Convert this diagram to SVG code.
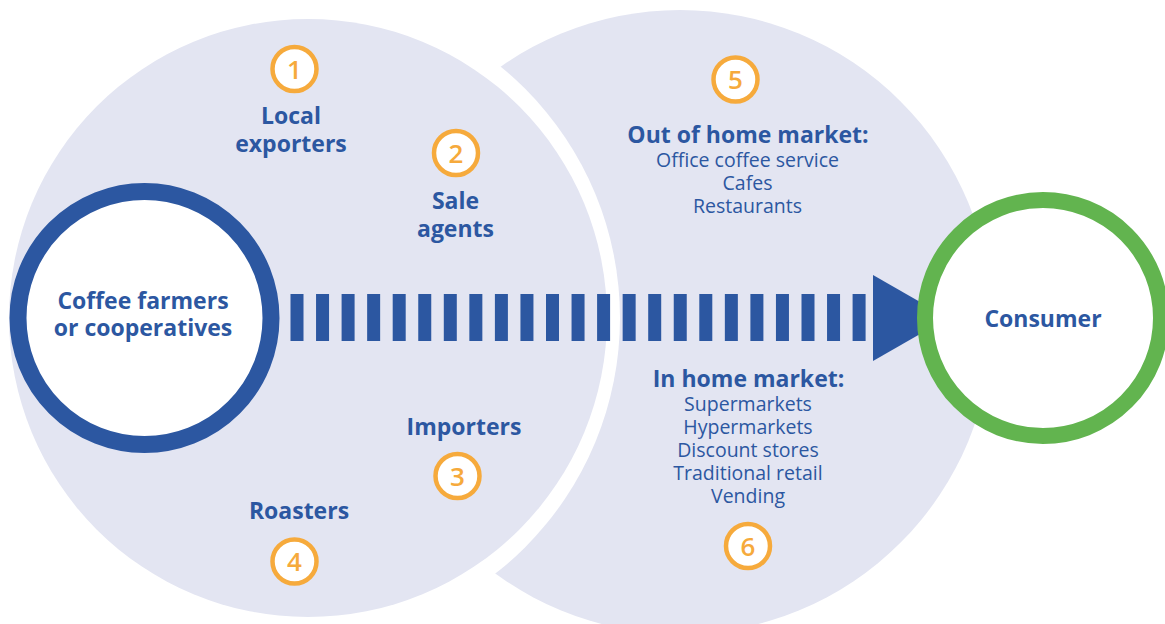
<svg xmlns="http://www.w3.org/2000/svg" width="1165" height="624" viewBox="0 0 1165 624">
  <style>
    .zone { fill: #e3e5f2; }
    .cut { fill: #ffffff; }
    .ring-blue { fill: #ffffff; stroke: #2c57a1; stroke-width: 17; }
    .ring-green { fill: #ffffff; stroke: #62b44f; stroke-width: 16; }
    .badge { fill: #ffffff; stroke: #f6aa3c; stroke-width: 4.5; }
    .num { font-family: "Open Sans", "Noto Sans", sans-serif; font-size: 26px; font-weight: 600; fill: #f6aa3c; text-anchor: middle; }
    .label { font-family: "Open Sans", "Noto Sans", sans-serif; font-size: 23px; font-weight: 700; fill: #2c57a1; text-anchor: middle; }
    .head { font-family: "Open Sans", "Noto Sans", sans-serif; font-size: 23px; font-weight: 700; fill: #2c57a1; text-anchor: middle; }
    .item { font-family: "Open Sans", "Noto Sans", sans-serif; font-size: 19.5px; font-weight: 400; fill: #2c57a1; text-anchor: middle; }
    .flow { stroke: #2c57a1; stroke-width: 47; stroke-dasharray: 13 12.55; fill: none; }
    .head-tri { fill: #2c57a1; }
  </style>

  <!-- background zones: retail side, separating gap, supply side -->
  <g id="zones">
    <circle class="zone" cx="680" cy="322" r="312"/>
    <circle class="cut" cx="295.5" cy="318" r="324.5"/>
    <circle class="zone" cx="308" cy="318" r="299"/>
  </g>

  <!-- flow arrow from producers to consumer -->
  <g id="connectors">
    <line class="flow" x1="290.5" y1="317.5" x2="866" y2="317.5"/>
    <polygon class="head-tri" points="873,275 948,318 873,361"/>
  </g>

  <g id="node-farmers">
    <circle class="ring-blue" cx="144.5" cy="318" r="126.5"/>
    <text class="label" x="143" y="309">Coffee farmers</text>
    <text class="label" x="143" y="336">or cooperatives</text>
  </g>

  <g id="node-consumer">
    <circle class="ring-green" cx="1043" cy="318" r="118"/>
    <text class="label" x="1043" y="327">Consumer</text>
  </g>

  <g id="step-1">
    <circle class="badge" cx="294.5" cy="69" r="22"/>
    <text class="num" x="294.5" y="78.5">1</text>
    <text class="label" x="291" y="124">Local</text>
    <text class="label" x="291" y="151.5">exporters</text>
  </g>

  <g id="step-2">
    <circle class="badge" cx="456" cy="153" r="22"/>
    <text class="num" x="456" y="162.5">2</text>
    <text class="label" x="455.5" y="209">Sale</text>
    <text class="label" x="455.5" y="236.5">agents</text>
  </g>

  <g id="step-3">
    <text class="label" x="464" y="435">Importers</text>
    <circle class="badge" cx="457.5" cy="476" r="22"/>
    <text class="num" x="457.5" y="485.5">3</text>
  </g>

  <g id="step-4">
    <text class="label" x="299" y="519">Roasters</text>
    <circle class="badge" cx="294.5" cy="561.5" r="22"/>
    <text class="num" x="294.5" y="571">4</text>
  </g>

  <g id="step-5">
    <circle class="badge" cx="735.5" cy="79.5" r="22"/>
    <text class="num" x="735.5" y="89">5</text>
    <text class="head" x="748" y="142.5">Out of home market:</text>
    <text class="item" x="747.5" y="166.5">Office coffee service</text>
    <text class="item" x="747.5" y="190">Cafes</text>
    <text class="item" x="747.5" y="212.5">Restaurants</text>
  </g>

  <g id="step-6">
    <text class="head" x="748.5" y="387">In home market:</text>
    <text class="item" x="748" y="410.5">Supermarkets</text>
    <text class="item" x="748" y="434">Hypermarkets</text>
    <text class="item" x="748" y="457">Discount stores</text>
    <text class="item" x="748" y="480">Traditional retail</text>
    <text class="item" x="748" y="503">Vending</text>
    <circle class="badge" cx="748" cy="546" r="22"/>
    <text class="num" x="748" y="555.5">6</text>
  </g>
</svg>
